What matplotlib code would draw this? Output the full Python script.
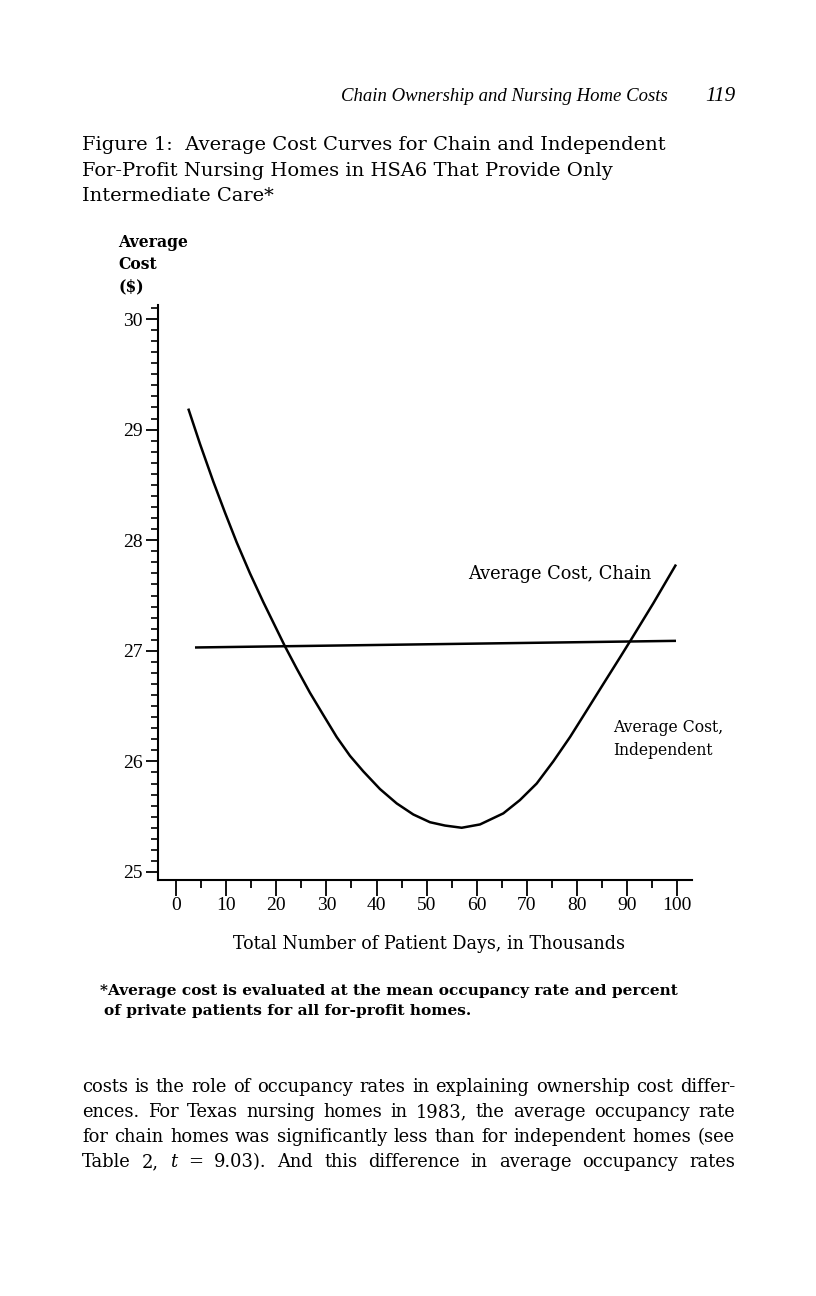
import matplotlib
matplotlib.use("Agg")
import matplotlib.pyplot as plt
from matplotlib.ticker import MultipleLocator

# ---- data ----
indep_x = [2.45, 4.79, 7.44, 9.77, 12.11, 14.76, 17.42, 21.74, 24.07, 26.73, 29.38, 32.06,
           34.71, 37.36, 40.69, 44.03, 47.34, 50.67, 53.66, 56.99, 60.64, 65.29, 68.6,
           71.95, 75.26, 78.60, 81.93, 85.24, 88.57, 90.90, 95.22, 99.74]
indep_y = [29.19, 28.87, 28.53, 28.25, 27.98, 27.70, 27.44, 27.04, 26.84, 26.62, 26.42, 26.22,
           26.05, 25.91, 25.75, 25.62, 25.52, 25.45, 25.42, 25.40, 25.43, 25.53, 25.65,
           25.80, 26.00, 26.22, 26.46, 26.70, 26.94, 27.11, 27.43, 27.78]
chain_x = [3.79, 99.74]
chain_y = [27.03, 27.09]
x_ticks = [0, 10, 20, 30, 40, 50, 60, 70, 80, 90, 100]
y_ticks = [25, 26, 27, 28, 29, 30]

W, H = 816, 1296
SERIF = ["DejaVu Serif"]
LIB = ["Liberation Serif", "DejaVu Serif"]
plt.rcParams["font.family"] = SERIF

fig = plt.figure(figsize=(W / 100, H / 100), dpi=100)
fig.canvas.draw()
renderer = fig.canvas.get_renderer()


def fx(px):
    return px / W


def fy(py):
    return 1 - py / H


def fit_text(x, y, s, target_w, base=14, **kw):
    """Place text at pixel (x, baseline y) and scale its size so it spans target_w px."""
    t = fig.text(fx(x), fy(y), s, fontsize=base, va="baseline", ha="left", **kw)
    w = t.get_window_extent(renderer).width
    size = base * target_w / w
    t.set_fontsize(size)
    return size


# axes box in pixels
L, R, T, B = 158, 692, 305, 880
ax = fig.add_axes([fx(L), fy(B), (R - L) / W, (B - T) / H])
x_per = 5.013
ax.set_xlim((L - 176) / x_per, (R - 176) / x_per)
ax.set_ylim(25 - (B - 872) / 110.6, 25 + (872 - T) / 110.6)

ax.plot(indep_x, indep_y, color="black", lw=1.8, solid_capstyle="butt",
        solid_joinstyle="round")
ax.plot(chain_x, chain_y, color="black", lw=1.8, solid_capstyle="butt")

for s in ["top", "right"]:
    ax.spines[s].set_visible(False)
ax.spines["left"].set_linewidth(1.5)
ax.spines["bottom"].set_linewidth(1.5)

ax.set_xticks(x_ticks)
ax.set_xticklabels([str(v) for v in x_ticks], family=LIB)
ax.xaxis.set_minor_locator(MultipleLocator(5))
ax.set_yticks(y_ticks)
ax.set_yticklabels([str(v) for v in y_ticks], family=LIB)
ax.yaxis.set_minor_locator(MultipleLocator(0.1))

ax.tick_params(axis="x", which="major", direction="out", length=11.5, width=1.3,
               labelsize=14, pad=1)
ax.tick_params(axis="x", which="minor", direction="out", length=5.5, width=1.3)
ax.tick_params(axis="y", which="major", direction="out", length=9, width=1.3,
               labelsize=14, pad=2)
ax.tick_params(axis="y", which="minor", direction="out", length=5, width=1.2)

# ---- page text ----
fit_text(341, 101, "Chain Ownership and Nursing Home Costs", 325, base=13,
         style="italic", family=LIB)
fit_text(705, 101, "119", 30, base=13, style="italic", family=LIB)

title_lines = ["Figure 1:  Average Cost Curves for Chain and Independent",
               "For-Profit Nursing Homes in HSA6 That Provide Only",
               "Intermediate Care*"]
tsize = fit_text(82, 150, title_lines[0], 584, base=15)
for i, t in enumerate(title_lines[1:], start=1):
    fig.text(fx(82), fy(150 + 25.5 * i), t, fontsize=tsize, va="baseline", ha="left")

ysize = fit_text(118, 247, "Average", 70, base=12, weight="bold")
fig.text(fx(118), fy(269), "Cost", fontsize=ysize, weight="bold", va="baseline", ha="left")
fig.text(fx(118), fy(291), "($)", fontsize=ysize, weight="bold", va="baseline", ha="left")

fit_text(468, 579, "Average Cost, Chain", 184, base=13)
isize = fit_text(613, 732, "Average Cost,", 110, base=13)
fig.text(fx(613), fy(755), "Independent", fontsize=isize, va="baseline", ha="left")

fit_text(233, 949, "Total Number of Patient Days, in Thousands", 392, base=13)

fsize = fit_text(100, 995, "*Average cost is evaluated at the mean occupancy rate and percent",
                 578, base=12, weight="bold")
fig.text(fx(104), fy(1015), "of private patients for all for-profit homes.",
         fontsize=fsize, weight="bold", va="baseline", ha="left")

# justified body text
body = [
    "costs is the role of occupancy rates in explaining ownership cost differ-",
    "ences. For Texas nursing homes in 1983, the average occupancy rate",
    "for chain homes was significantly less than for independent homes (see",
    "Table 2, $t$ = 9.03). And this difference in average occupancy rates",
]
BODY_SIZE = 12.9
x0, x1 = 82, 735
for i, line in enumerate(body):
    words = line.split(" ")
    arts = []
    for w in words:
        if w == "$t$":
            a = fig.text(0, fy(1092 + 25 * i), "t", fontsize=BODY_SIZE, style="italic",
                         va="baseline", ha="left")
        else:
            a = fig.text(0, fy(1092 + 25 * i), w, fontsize=BODY_SIZE, va="baseline",
                         ha="left")
        arts.append(a)
    widths = [a.get_window_extent(renderer).width for a in arts]
    gap = (x1 - x0 - sum(widths)) / (len(words) - 1)
    x = x0
    for a, wdt in zip(arts, widths):
        a.set_x(fx(x))
        x += wdt + gap

fig.savefig("out.png", dpi=100)
